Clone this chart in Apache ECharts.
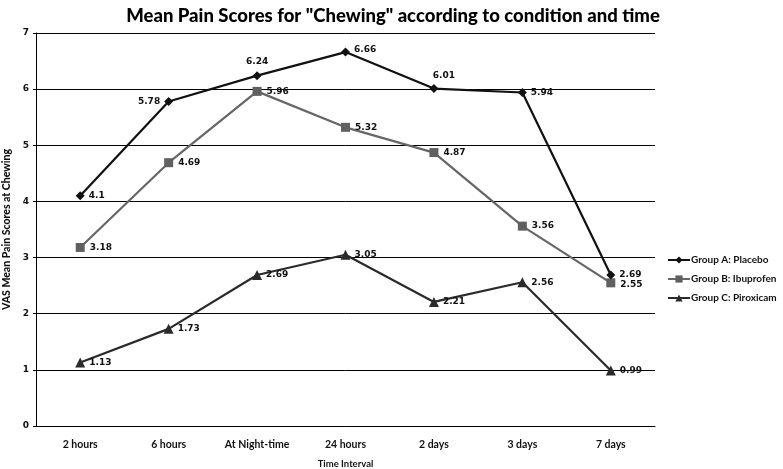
<!DOCTYPE html>
<html><head><meta charset="utf-8">
<script src="https://cdn.jsdelivr.net/npm/echarts@6/dist/echarts.min.js"></script>
<style>html,body{margin:0;padding:0;background:#fff}#c{width:783px;height:469px}</style>
</head><body><div id="c"></div>
<script>
const categories = ["2 hours","6 hours","At Night-time","24 hours","2 days","3 days","7 days"];
const placebo = [4.1, 5.78, 6.24, 6.66, 6.01, 5.94, 2.69];
const ibuprofen = [3.18, 4.69, 5.96, 5.32, 4.87, 3.56, 2.55];
const piroxicam = [1.13, 1.73, 2.69, 3.05, 2.21, 2.56, 0.99];
const seriesNames = ["Group A: Placebo","Group B: Ibuprofen","Group C: Piroxicam"];
const yTicks = {min:0, max:7, interval:1};

const lblFont = {fontFamily:"DejaVu Sans", fontWeight:"bold", fontSize:9, color:"#111"};
const axFont = {fontFamily:"Lato", fontWeight:"bold", fontSize:10.5, color:"#111"};

const placeboPos = ["right","left","top","right","top","right","right"];
const placeboOff = [[0,0],[0,0],[0,-1],[0,-2],[10,0],[0,0],[0,0]];
function withLabels(vals, pos, off){
  return vals.map((v,i)=>({value:v, label:{position:pos[i], offset:off?off[i]:[0,0]}}));
}

const chart = echarts.init(document.getElementById('c'), null, {renderer:'canvas'});
chart.setOption({
  animation:false,
  backgroundColor:'#fff',
  title:{text:'Mean Pain Scores for "Chewing" according to condition and time', left:388, textAlign:'center', top:2,
    textStyle:{fontFamily:"Lato", fontWeight:"900", fontSize:18.5, color:"#000"}},
  grid:{left:36, right:128, top:33, bottom:43, containLabel:false, outerBoundsMode:'none'},
  legend:{orient:'vertical', left:662, top:250, itemGap:9, itemWidth:22, itemHeight:9,
    textStyle:{fontFamily:"Lato", fontWeight:"bold", fontSize:10, color:"#111", padding:[0,0,0,-4]},
    data:seriesNames},
  xAxis:{type:'category', data:categories, boundaryGap:true,
    name:'Time Interval', nameLocation:'middle', nameGap:33,
    nameTextStyle:{fontFamily:"Lato", fontWeight:"bold", fontSize:9.5, color:"#111"},
    axisLine:{lineStyle:{color:'#000', width:1}}, axisTick:{show:false},
    axisLabel:Object.assign({margin:13}, axFont)},
  yAxis:{type:'value', min:yTicks.min, max:yTicks.max, interval:yTicks.interval,
    name:'VAS Mean Pain Scores at Chewing', nameLocation:'middle', nameGap:22, nameRotate:90,
    nameTextStyle:{fontFamily:"Lato", fontWeight:"900", fontSize:10.5, color:"#111"},
    axisLine:{show:true, lineStyle:{color:'#000'}}, axisTick:{show:true, length:3, lineStyle:{color:'#000'}},
    splitLine:{lineStyle:{color:'#000', width:1}},
    axisLabel:{fontFamily:"DejaVu Sans", fontWeight:"bold", fontSize:9, color:'#111', margin:7}},
  series:[
    {name:seriesNames[0], type:'line', data:withLabels(placebo, placeboPos, placeboOff), symbol:'diamond', symbolSize:9,
     lineStyle:{color:'#111', width:2.2}, itemStyle:{color:'#111'},
     label:Object.assign({show:true, distance:4}, lblFont), z:3},
    {name:seriesNames[1], type:'line', data:withLabels(ibuprofen, Array(7).fill('right'), [[0,0],[0,0],[0,0],[0,0],[0,0],[0,0],[0,2]]), symbol:'rect', symbolSize:9,
     lineStyle:{color:'#666', width:2.2}, itemStyle:{color:'#606060'},
     label:Object.assign({show:true, distance:5}, lblFont), z:2},
    {name:seriesNames[2], type:'line', data:withLabels(piroxicam, Array(7).fill('right')), symbol:'triangle', symbolSize:10,
     lineStyle:{color:'#2a2a2a', width:2.2}, itemStyle:{color:'#2a2a2a'},
     label:Object.assign({show:true, distance:4}, lblFont), z:2}
  ]
});
</script></body></html>
